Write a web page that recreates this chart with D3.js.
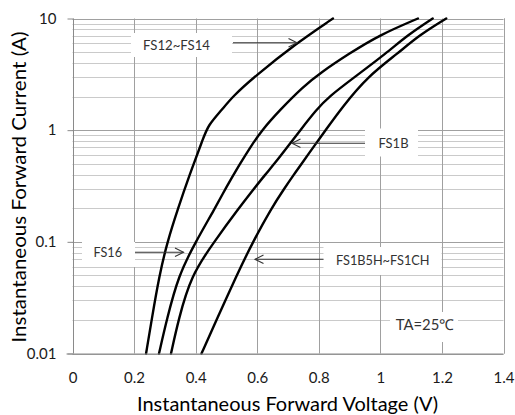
<!DOCTYPE html>
<html><head><meta charset="utf-8">
<script src="https://cdn.jsdelivr.net/npm/d3@7"></script>
<style>body{margin:0;background:#fff} svg{display:block}</style>
</head><body>
<svg id="c" width="515" height="415"></svg>
<script>
// ---- data ----
const xTicks = [0, 0.2, 0.4, 0.6, 0.8, 1, 1.2, 1.4];
const xTickLabels = ["0", "0.2", "0.4", "0.6", "0.8", "1", "1.2", "1.4"];
const yTicks = [0.01, 0.1, 1, 10];
const yTickLabels = ["0.01", "0.1", "1", "10"];
const yMinor = [0.02,0.03,0.04,0.05,0.06,0.07,0.08,0.09,0.2,0.3,0.4,0.5,0.6,0.7,0.8,0.9,2,3,4,5,6,7,8,9];

const seriesNames = ["FS12~FS14", "FS16", "FS1B", "FS1B5H~FS1CH"];
const vf1 = [0.239,0.257,0.282,0.308,0.343,0.379,0.425,0.440,0.485,0.520,0.590,0.727,0.846];
const if1 = [0.01,0.02,0.05,0.1,0.2,0.39,0.85,1.1,1.52,2.0,3.0,6.0,10];
const vf2 = [0.281,0.306,0.344,0.400,0.463,0.497,0.544,0.577,0.615,0.674,0.749,0.803,0.900,0.997,1.122];
const if2 = [0.01,0.02,0.05,0.1,0.2,0.3,0.5,0.7,1,1.52,2.45,3.23,4.88,7.11,10];
const vf3 = [0.320,0.344,0.385,0.460,0.540,0.590,0.626,0.656,0.697,0.740,0.792,0.832,0.918,1.019,1.089,1.170];
const if3 = [0.01,0.02,0.05,0.1,0.2,0.3,0.4,0.5,0.7,1,1.52,1.99,3.01,4.88,7.11,10];
const vf4 = [0.419,0.468,0.533,0.586,0.646,0.688,0.719,0.744,0.791,0.822,0.877,0.958,1.057,1.127,1.214];
const if4 = [0.01,0.02,0.05,0.1,0.2,0.3,0.4,0.5,0.76,1,1.62,3.01,4.88,7.11,10];

const xTitle = "Instantaneous Forward Voltage (V)";
const yTitle = "Instantaneous Forward Current (A)";
const noteText = "TA=25\u2103";

// ---- layout ----
const svg = d3.select("#c");
const x = d3.scaleLinear().domain([0, 1.4]).range([72.5, 503.5]);
const y = d3.scaleLog().domain([0.01, 10]).range([353.5, 18.5]);
const FONT = "Lato, 'Open Sans', sans-serif";

// gridlines
const g = svg.append("g");
g.selectAll(".ymin").data(yMinor).join("line")
  .attr("x1", x(0)).attr("x2", x(1.4))
  .attr("y1", d => Math.round(y(d)) + 0.5).attr("y2", d => Math.round(y(d)) + 0.5)
  .attr("stroke", "#cacaca").attr("stroke-width", 1);
g.selectAll(".ymaj").data(yTicks).join("line")
  .attr("x1", x(0)).attr("x2", x(1.4))
  .attr("y1", d => Math.round(y(d)) + 0.5).attr("y2", d => Math.round(y(d)) + 0.5)
  .attr("stroke", "#a0a0a0").attr("stroke-width", 1);
g.selectAll(".xmaj").data(xTicks.slice(1)).join("line")
  .attr("x1", d => Math.round(x(d)) + 0.5).attr("x2", d => Math.round(x(d)) + 0.5)
  .attr("y1", y(10)).attr("y2", y(0.01))
  .attr("stroke", "#a0a0a0").attr("stroke-width", 1);

// curves
const series = [[vf1, if1], [vf2, if2], [vf3, if3], [vf4, if4]].map(([v, i], k) => ({
  name: seriesNames[k], pts: v.map((vv, j) => [vv, i[j]])
}));
const line = d3.line().x(d => x(d[0])).y(d => y(d[1])).curve(d3.curveBasis);
svg.append("g").selectAll("path").data(series).join("path")
  .attr("d", d => line(d.pts))
  .attr("fill", "none").attr("stroke", "#000").attr("stroke-width", 2.4)
  .attr("stroke-linejoin", "round").attr("stroke-linecap", "round");

// axes
const ax = svg.append("g").attr("transform", `translate(0,${y(0.01)})`)
  .call(d3.axisBottom(x).tickValues(xTicks).tickFormat((d, i) => xTickLabels[i]).tickSize(0).tickPadding(19));
ax.select(".domain").attr("stroke", "#8a8a8a").attr("d", `M${x(0) - 6},0.5H${x(1.4)}`);
ax.selectAll("text").attr("font-family", FONT).attr("font-size", 15).attr("fill", "#1a1a1a");

const ay = svg.append("g").attr("transform", `translate(${Math.round(x(0)) + 0.5},0)`)
  .call(d3.axisLeft(y).tickValues(yTicks).tickFormat((d, i) => yTickLabels[i]).tickSize(6).tickPadding(11));
ay.select(".domain").attr("stroke", "#8a8a8a").attr("d", `M0,${y(10)}V${y(0.01)}`);
ay.selectAll(".tick line").attr("stroke", "#8a8a8a");
ay.selectAll("text").attr("font-family", FONT).attr("font-size", 15).attr("fill", "#1a1a1a");

// right border
svg.append("line").attr("x1", Math.round(x(1.4)) + 0.5).attr("x2", Math.round(x(1.4)) + 0.5)
  .attr("y1", y(10)).attr("y2", y(0.01)).attr("stroke", "#a0a0a0");

// titles
svg.append("text").attr("x", 287.5).attr("y", 411).attr("text-anchor", "middle")
  .attr("font-family", FONT).attr("font-size", 19).attr("fill", "#000")
  .attr("textLength", 301).attr("lengthAdjust", "spacingAndGlyphs").text(xTitle);
svg.append("text").attr("transform", "translate(26,187) rotate(-90)").attr("text-anchor", "middle")
  .attr("font-family", FONT).attr("font-size", 19).attr("fill", "#000")
  .attr("textLength", 311).attr("lengthAdjust", "spacingAndGlyphs").text(yTitle);

// annotations (layout, in pixels)
const notes = [
  { text: seriesNames[0], box: [131, 33, 101, 24], tx: 143, ty: 49.5, tw: 67, arrow: [233, 42.7, 297, 42.7] },
  { text: seriesNames[2], box: [365, 128.5, 53, 28], tx: 378.5, ty: 148.3, tw: 30, arrow: [365, 143.3, 292, 143.3] },
  { text: seriesNames[1], box: [82, 242, 53, 25], tx: 93.5, ty: 257.3, tw: 28.5, arrow: [135, 252.3, 183.5, 252.3] },
  { text: seriesNames[3], box: [323.5, 247, 118, 28], tx: 336, ty: 265, tw: 93.5, arrow: [323.5, 259.3, 255, 259.3] },
  { text: noteText, box: [390, 312, 68, 30], tx: 395.7, ty: 329.5, tw: 58.5, arrow: null }
];
const an = svg.append("g");
notes.forEach(n => {
  an.append("rect").attr("x", n.box[0]).attr("y", n.box[1]).attr("width", n.box[2]).attr("height", n.box[3])
    .attr("fill", "#fff");
  an.append("text").attr("x", n.tx).attr("y", n.ty)
    .attr("font-family", FONT).attr("font-size", n.arrow ? 13.5 : 15).attr("fill", "#333")
    .attr("textLength", n.tw).attr("lengthAdjust", "spacingAndGlyphs").text(n.text);
  if (n.arrow) {
    const [x1, y1, x2, y2] = n.arrow;
    const dir = Math.sign(x2 - x1);
    an.append("line").attr("x1", x1).attr("y1", y1).attr("x2", x2).attr("y2", y2)
      .attr("stroke", "#333").attr("stroke-width", 1.1);
    an.append("path").attr("d", `M${x2 - dir * 8.5},${y2 - 4.3}L${x2},${y2}L${x2 - dir * 8.5},${y2 + 4.3}`)
      .attr("fill", "none").attr("stroke", "#333").attr("stroke-width", 1.1);
  }
});
</script>
</body></html>
